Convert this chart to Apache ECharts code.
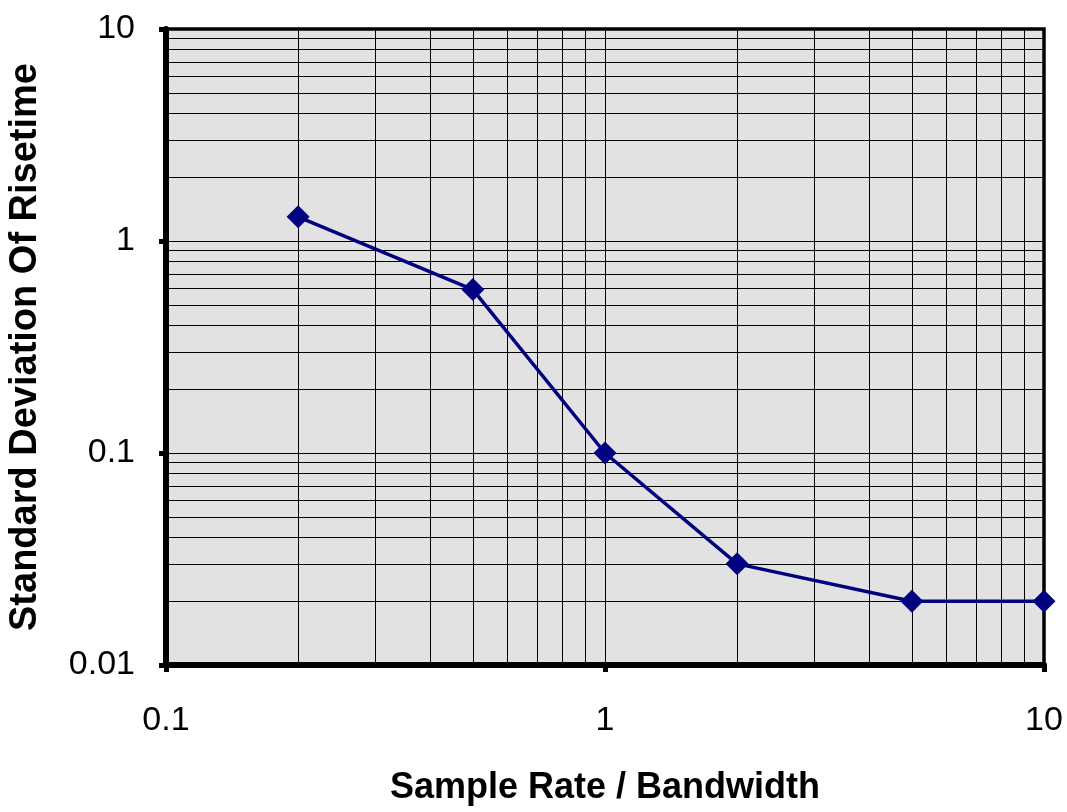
<!DOCTYPE html>
<html>
<head>
<meta charset="utf-8">
<script src="https://cdn.jsdelivr.net/npm/echarts@6/dist/echarts.min.js"></script>
<style>html,body{margin:0;padding:0;background:#fff}#c{width:1067px;height:812px}</style>
</head>
<body>
<div id="c"></div>
<script>
// Data
var sampleRate = [0.2, 0.5, 1, 2, 5, 10];
var stdDevRisetime = [1.3, 0.59, 0.1, 0.03, 0.02, 0.02];
var xTitle = 'Sample Rate / Bandwidth';
var yTitle = 'Standard Deviation Of Risetime';
var xDecades = [0.1, 1];
var yDecades = [0.01, 0.1, 1];
var gridMultipliers = [1, 2, 3, 4, 5, 6, 7, 8, 9];

var gridLines = [];
xDecades.forEach(function (d) {
  gridMultipliers.forEach(function (m) {
    var v = +(d * m).toPrecision(3);
    if (v > 0.1 && v < 10) gridLines.push({ xAxis: v });
  });
});
yDecades.forEach(function (d) {
  gridMultipliers.forEach(function (m) {
    var v = +(d * m).toPrecision(3);
    if (v > 0.01 && v < 10) gridLines.push({ yAxis: v });
  });
});

var font = '"Liberation Sans", Arial, sans-serif';
var chart = echarts.init(document.getElementById('c'), null, { renderer: 'canvas' });
chart.setOption({
  animation: false,
  backgroundColor: '#ffffff',
  grid: {
    left: 166, right: 23, top: 29, bottom: 147,
    containLabel: false, outerBoundsMode: 'none',
    show: true, backgroundColor: '#e2e2e2', borderColor: '#000', borderWidth: 3.5
  },
  xAxis: {
    type: 'log', logBase: 10, min: 0.1, max: 10,
    name: xTitle, nameLocation: 'middle', nameGap: 105,
    nameTextStyle: { fontFamily: font, fontWeight: 'bold', fontSize: 36, color: '#000' },
    axisLine: { show: true, onZero: false, lineStyle: { color: '#000', width: 6 } },
    axisTick: { show: true, inside: false, length: 7, lineStyle: { color: '#000', width: 5 } },
    axisLabel: { fontFamily: font, fontSize: 34, color: '#000', margin: 39,
      formatter: function (v) { return String(+v.toPrecision(3)); } },
    splitLine: { show: false },
    minorTick: { show: false }, minorSplitLine: { show: false }
  },
  yAxis: {
    type: 'log', logBase: 10, min: 0.01, max: 10,
    name: yTitle, nameLocation: 'middle', nameGap: 121, nameRotate: 90,
    nameTextStyle: { fontFamily: font, fontWeight: 'bold', fontSize: 38, color: '#000' },
    axisLine: { show: true, onZero: false, lineStyle: { color: '#000', width: 6 } },
    axisTick: { show: true, inside: false, length: 7, lineStyle: { color: '#000', width: 5 } },
    axisLabel: { fontFamily: font, fontSize: 34, color: '#000', margin: 31,
      formatter: function (v) { return String(+v.toPrecision(3)); } },
    splitLine: { show: false },
    minorTick: { show: false }, minorSplitLine: { show: false }
  },
  series: [
    {
      type: 'line', data: [], z: 1, silent: true, symbol: 'none',
      markLine: {
        silent: true, symbol: 'none', animation: false,
        label: { show: false },
        lineStyle: { color: '#000', width: 1, type: 'solid' },
        emphasis: { disabled: true },
        data: gridLines
      }
    },
    {
      type: 'line', z: 5,
      data: sampleRate.map(function (x, i) { return [x, stdDevRisetime[i]]; }),
      symbol: 'diamond', symbolSize: 23, showAllSymbol: true,
      lineStyle: { color: '#000080', width: 3.5 },
      itemStyle: { color: '#000080' }
    }
  ]
});
</script>
</body>
</html>
